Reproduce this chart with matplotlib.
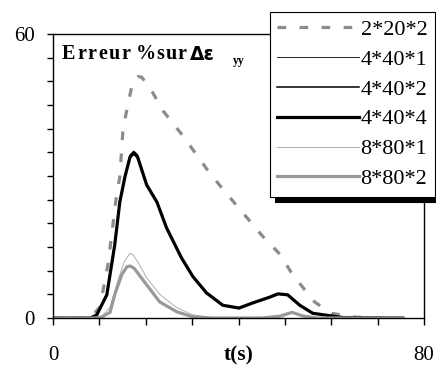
import matplotlib
matplotlib.use("Agg")
import matplotlib.pyplot as plt

plt.rcParams['font.family'] = ['Liberation Serif', 'DejaVu Serif']

# --- data (t in s, error in %) ---
t_2202 = [0, 8, 10.1, 11.9, 13.7, 14.4, 15.1, 16.2, 17.2, 18.3, 19.1, 21, 23.7, 28, 33.8, 37.5, 41.3, 45, 48.9, 51.7, 56.4, 60, 65, 70, 75.4]
v_2202 = [0, 0, 2.3, 11.6, 26, 29.8, 40, 45.4, 49.9, 51, 50.9, 48.5, 43.8, 38.5, 30.6, 26.2, 21.8, 17.5, 13.5, 9.1, 3.4, 1.0, 0.2, 0, 0]

t_4401 = [0, 8, 9.4, 11.6, 13.3, 14.4, 15.5, 16.6, 17.4, 18.2, 20.2, 22.4, 24.5, 27.7, 30.2, 33.1, 36.6, 40.1, 43.1, 46.7, 48.5, 50.6, 53.2, 56, 60.3, 62.5, 75.4]
v_4401 = [0, 0, 0.7, 5.2, 15.8, 25.0, 30.3, 34.5, 35.3, 34.6, 28.4, 24.7, 19.2, 12.9, 8.8, 5.4, 2.8, 2.2, 3.3, 4.5, 5.1, 4.9, 2.7, 1.0, 0.4, 0.1, 0]

t_4402 = [0, 8, 9.4, 11.6, 13.3, 14.4, 15.5, 16.6, 17.4, 18.2, 20.2, 22.4, 24.5, 27.7, 30.2, 33.1, 36.6, 40.1, 43.1, 46.7, 48.5, 50.6, 53.2, 56, 60.3, 62.5, 75.4]
v_4402 = [0, 0, 0.6, 5.0, 15.6, 24.8, 30.0, 34.3, 35.1, 34.4, 28.2, 24.6, 19.1, 12.8, 8.7, 5.3, 2.7, 2.1, 3.2, 4.4, 5.1, 4.9, 2.7, 1.0, 0.4, 0.1, 0]

t_4404 = [0, 8, 9.4, 11.6, 13.3, 14.4, 15.5, 16.6, 17.4, 18.2, 20.2, 22.4, 24.5, 27.7, 30.2, 33.1, 36.6, 40.1, 43.1, 46.7, 48.5, 50.6, 53.2, 56, 60.3, 62.5, 75.4]
v_4404 = [0, 0, 0.6, 4.9, 15.4, 24.5, 29.8, 34.0, 34.8, 34.1, 28.1, 24.5, 19.0, 12.7, 8.7, 5.3, 2.7, 2.1, 3.2, 4.4, 5.1, 4.9, 2.7, 1.0, 0.4, 0.1, 0]

t_8801 = [0, 9, 10.5, 12.3, 13.7, 15.3, 16.6, 17.2, 18.5, 20.2, 23, 26.7, 30, 34, 45, 49, 51.5, 54, 57, 75.4]
v_8801 = [0, 0, 0.3, 2.3, 7.0, 11.8, 13.7, 13.4, 11.5, 8.5, 5.0, 2.2, 0.7, 0.1, 0, 0.4, 1.3, 0.4, 0, 0]

t_8802 = [0, 9, 10.5, 12.3, 13.3, 14.8, 15.9, 16.6, 17.5, 20.2, 23, 26.7, 30, 34, 45, 49, 51.5, 54, 57, 75.4]
v_8802 = [0, 0, 0.2, 1.2, 4.9, 9.1, 10.8, 11.0, 10.5, 7.0, 3.4, 1.3, 0.3, 0, 0, 0.4, 1.2, 0.4, 0, 0]

labels = ["2*20*2", "4*40*1", "4*40*2", "4*40*4", "8*80*1", "8*80*2"]
x_ticklabels = ["0", "80"]
y_ticklabels = ["0", "60"]

fig = plt.figure(figsize=(4.36, 3.70), dpi=100)
ax = fig.add_axes([0.1216, 0.1405, 0.851, 0.7675])

ax.plot(t_2202, v_2202, color='#8c8c8c', lw=2.3, dashes=(2.7, 4.2), label=labels[0])
ax.plot(t_4401, v_4401, color='black', lw=0.6, label=labels[1])
ax.plot(t_4402, v_4402, color='black', lw=1.1, label=labels[2])
ax.plot(t_4404, v_4404, color='black', lw=2.3, label=labels[3])
ax.plot(t_8801, v_8801, color='#b0b0b0', lw=0.7, label=labels[4])
ax.plot(t_8802, v_8802, color='#999999', lw=2.3, label=labels[5])

ax.set_xlim(0, 80)
ax.set_ylim(0, 60)

ax.set_xticks(range(0, 81, 10))
ax.set_xticklabels([x_ticklabels[0]] + [""] * 7 + [x_ticklabels[1]])
ax.set_yticks(range(0, 61, 5))
ax.set_yticklabels([y_ticklabels[0]] + [""] * 11 + [y_ticklabels[1]])
ax.tick_params(axis='x', direction='out', length=5, width=1, pad=15, labelsize=15)
ax.tick_params(axis='y', direction='out', length=4, width=1, pad=9, labelsize=15)
for s in ax.spines.values():
    s.set_linewidth(1)
    s.set_color('black')

ax.set_xlabel("t(s)", fontsize=15.5, fontweight='bold', labelpad=-14)

# title pieces (spaced like the original)
def spaced(x0, y, s, size, gap, **kw):
    x = x0
    r = fig.canvas.get_renderer()
    for ch in s:
        t = fig.text(x / 436, 1 - y / 370, ch, fontsize=size, fontweight='bold',
                     va='baseline', ha='left', **kw)
        w = t.get_window_extent(renderer=r).width
        x += w + gap

spaced(62, 59, "Erreur", 14.5, 1.6)
spaced(136, 59, "%sur", 14.5, 0.6)
fig.text(190 / 436, 1 - 60 / 370, "Δε", fontsize=13.5, fontweight='bold', va='baseline',
         ha='left', family=['DejaVu Sans'])
fig.text(233 / 436, 1 - 64 / 370, "yy", fontsize=8.5, fontweight='bold', va='baseline', ha='left')

leg = fig.legend(loc='upper left', bbox_to_anchor=(0.619, 0.968), fontsize=16,
                 handlelength=3.7, handletextpad=0.05, labelspacing=0.42,
                 borderpad=0.33, borderaxespad=0, frameon=True, fancybox=False,
                 shadow={'color': 'black', 'alpha': 1, 'ox': 4, 'oy': -4},
                 edgecolor='black')
leg.get_frame().set_linewidth(0.8)

fig.savefig("out.png", dpi=100)
